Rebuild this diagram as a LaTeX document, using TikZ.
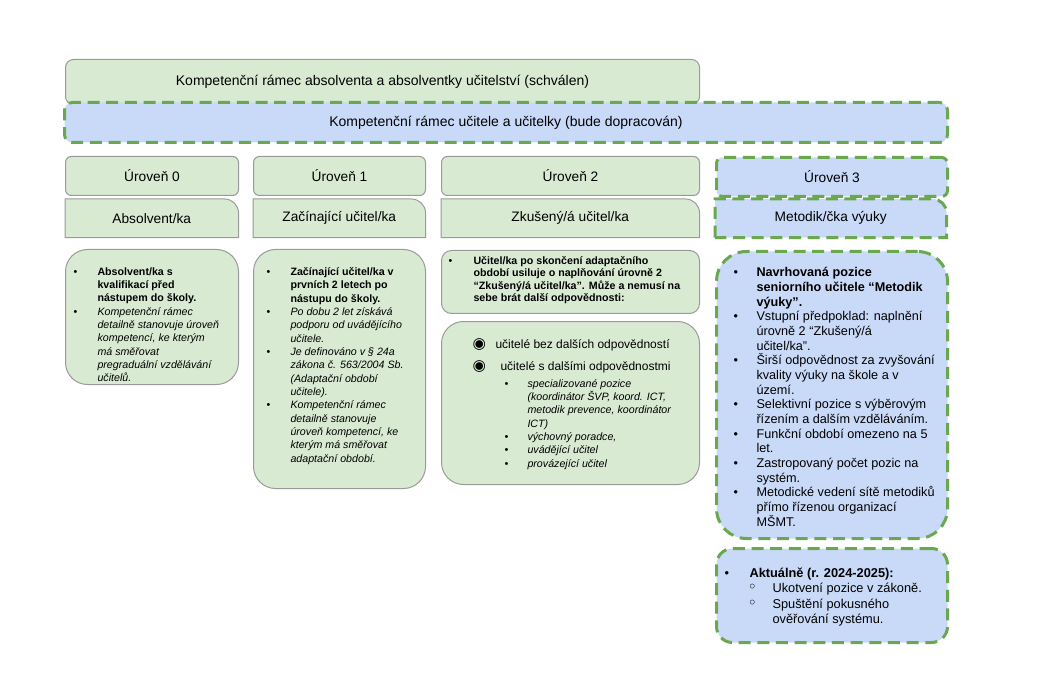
\documentclass[tikz,border=0pt]{standalone}
\usepackage{fontspec}
\setmainfont{Liberation Sans}
\newfontfamily\dejavu{DejaVu Sans}
\usepackage{enumitem}
\usetikzlibrary{backgrounds}

\definecolor{zelena}{HTML}{D9EAD3}
\definecolor{modra}{HTML}{C9DAF8}
\definecolor{carky}{HTML}{6AA84F}
\definecolor{okraj}{HTML}{9A9A9A}

\newlength{\px}
\setlength{\px}{0.75pt}
\setlist[itemize]{nosep, align=left, labelsep=0pt, rightmargin=-40\px}

% contenuto di un riquadro: larghezza e altezza fisse (in px), testo in alto
\newcommand{\vnitrek}[3]{\makebox[#1\px][l]{\parbox[c][#2\px][t]{#1\px}{\raggedright #3}}}

\begin{document}
\begin{tikzpicture}[x=0.75pt, y=-0.75pt,
    zelenybox/.style={draw=okraj, line width=0.75pt, fill=zelena},
    modrybox/.style={draw=carky, line width=2.25pt, dash pattern=on 9pt off 5pt, fill=modra},
    ramec/.style={anchor=north west, inner sep=0pt, rounded corners=8\px, font=\fontsize{10.5}{12}\selectfont},
    uroven/.style={anchor=north west, inner sep=0pt, minimum height=39\px, rounded corners=6\px, font=\fontsize{10.3}{12}\selectfont},
    role/.style={anchor=north west, inner sep=0pt, minimum height=38\px, font=\fontsize{10.3}{12}\selectfont},
    obsah/.style={anchor=north west, inner sep=0pt}]
    \useasboundingbox (0,0) rectangle (1041,673);

    % I due quadri di competenze in alto
    \node[ramec, zelenybox, minimum width=634\px, minimum height=45\px] (ramecAbs) at (65,59) {Kompetenční rámec absolventa a absolventky učitelství (schválen)};
    \node[ramec, modrybox, minimum width=883\px, minimum height=40\px] (ramecUcit) at (63,101) {Kompetenční rámec učitele a učitelky (bude dopracován)};

    % Livelli 0-2 con il loro ruolo
    \foreach \i/\x/\w/\nazev in {0/65/173/{Absolvent/ka}, 1/253/172/{Začínající učitel/ka}, 2/441/258/{Zkušený/á učitel/ka}} {
        \node[uroven, zelenybox, minimum width=\w\px] (uroven\i) at (\x,156) {Úroveň \i};
        \node[role, minimum width=\w\px] (role\i) at (\x,199) {\nazev}; % il riquadro si disegna sotto
    }

    % Livello 3 (tratteggiato)
    \node[uroven, modrybox, minimum width=231\px] (uroven3) at (715,156) {Úroveň 3};
    \node[role, minimum width=231\px] (role3) at (715,199) {Metodik/čka výuky};

    % Riquadri dei ruoli: solo l'angolo in alto a destra arrotondato
    \begin{scope}[on background layer]
        \foreach \i in {0,1,2}
            \draw[zelenybox] (role\i.south west) -- (role\i.north west) -- ([xshift=-14\px]role\i.north east) arc[start angle=90, end angle=0, radius=14\px] -- (role\i.south east) -- cycle;
        \draw[modrybox] (role3.south west) -- (role3.north west) -- ([xshift=-14\px]role3.north east) arc[start angle=90, end angle=0, radius=14\px] -- (role3.south east) -- cycle;
    \end{scope}

    % Descrizione livello 0
    \node[obsah, zelenybox, rounded corners=22\px] (popis0) at (65,249) {\vnitrek{173}{135}{\fontsize{8}{10}\selectfont\vspace*{18\px}%
        \begin{itemize}[labelindent=8\px, labelwidth=24\px, leftmargin=32\px]
            \item \textbf{Absolvent/ka s\newline kvalifikací před\newline nástupem do školy.}
            \item \textit{Kompetenční rámec\newline detailně stanovuje úroveň\newline kompetencí, ke kterým\newline má směřovat\newline pregraduální vzdělávání\newline učitelů.}
        \end{itemize}}};

    % Descrizione livello 1
    \node[obsah, zelenybox, rounded corners=22\px] (popis1) at (253,249) {\vnitrek{172}{239}{\fontsize{8}{10}\selectfont\vspace*{18\px}%
        \begin{itemize}[labelindent=13\px, labelwidth=24\px, leftmargin=37\px]
            \item \textbf{Začínající učitel/ka v\newline prvních 2 letech po\newline nástupu do školy.}
            \item \textit{Po dobu 2 let získává\newline podporu od uvádějícího\newline učitele.}
            \item \textit{Je definováno v § 24a\newline zákona č. 563/2004 Sb.\newline (Adaptační období\newline učitele).}
            \item \textit{Kompetenční rámec\newline detailně stanovuje\newline úroveň kompetencí, ke\newline kterým má směřovat\newline adaptační období.}
        \end{itemize}}};

    % Descrizione livello 2
    \node[obsah, zelenybox, rounded corners=10\px] (popis2a) at (441,250) {\vnitrek{258}{63}{\fontsize{8}{9.3}\selectfont\bfseries\vspace*{6\px}%
        \begin{itemize}[labelindent=7\px, labelwidth=25\px, leftmargin=32\px]
            \item Učitel/ka po skončení adaptačního\newline období usiluje o naplňování úrovně 2\newline “Zkušený/á učitel/ka”. Může a nemusí na\newline sebe brát další odpovědnosti:
        \end{itemize}}};
    \node[obsah, zelenybox, rounded corners=22\px] (popis2b) at (441,321) {\vnitrek{258}{163}{\fontsize{9}{11}\selectfont\vspace*{17\px}%
        \begin{itemize}[labelindent=31\px, labelwidth=23\px, leftmargin=54\px, itemsep=9\px, label={\dejavu\fontsize{11.5}{11}\selectfont ◉}]
            \item učitelé bez dalších odpovědností
            \item \hspace{5\px}učitelé s dalšími odpovědnostmi
            \begin{itemize}[labelindent=9\px, labelwidth=23\px, leftmargin=32\px, topsep=3\px, label=\textbullet, before=\fontsize{8}{10}\selectfont\itshape]
                \item specializované pozice\newline (koordinátor ŠVP,  koord. ICT,\newline metodik prevence, koordinátor\newline ICT)
                \item výchovný poradce,
                \item uvádějící učitel
                \item provázející učitel
            \end{itemize}
        \end{itemize}}};

    % Descrizione livello 3
    \node[obsah, modrybox, rounded corners=30\px] (popis3a) at (715,250) {\vnitrek{231}{287}{\fontsize{9.5}{11}\selectfont\vspace*{16\px}%
        \begin{itemize}[labelindent=17\px, labelwidth=23\px, leftmargin=40\px]
            \item \textbf{Navrhovaná pozice\newline seniorního učitele “Metodik\newline výuky”.}
            \item Vstupní předpoklad: naplnění\newline úrovně 2 “Zkušený/á\newline učitel/ka”.
            \item Širší odpovědnost za zvyšování\newline kvality výuky na škole a v\newline území.
            \item Selektivní pozice s výběrovým\newline řízením a dalším vzděláváním.
            \item Funkční období omezeno na 5\newline let.
            \item Zastropovaný počet pozic na\newline systém.
            \item Metodické vedení sítě metodiků\newline přímo řízenou organizací\newline MŠMT.
        \end{itemize}}};
    \node[obsah, modrybox, rounded corners=16\px] (popis3b) at (715,547) {\vnitrek{231}{94}{\fontsize{9.6}{11.7}\selectfont\vspace*{19\px}%
        \begin{itemize}[labelindent=8\px, labelwidth=25\px, leftmargin=33\px]
            \item \textbf{Aktuálně (r. 2024-2025):}
            \begin{itemize}[labelindent=-2\px, labelwidth=25\px, leftmargin=23\px, label={\dejavu\fontsize{12}{12}\selectfont ◦}]
                \item Ukotvení pozice v zákoně.
                \item Spuštění pokusného\newline ověřování systému.
            \end{itemize}
        \end{itemize}}};
\end{tikzpicture}
\end{document}
